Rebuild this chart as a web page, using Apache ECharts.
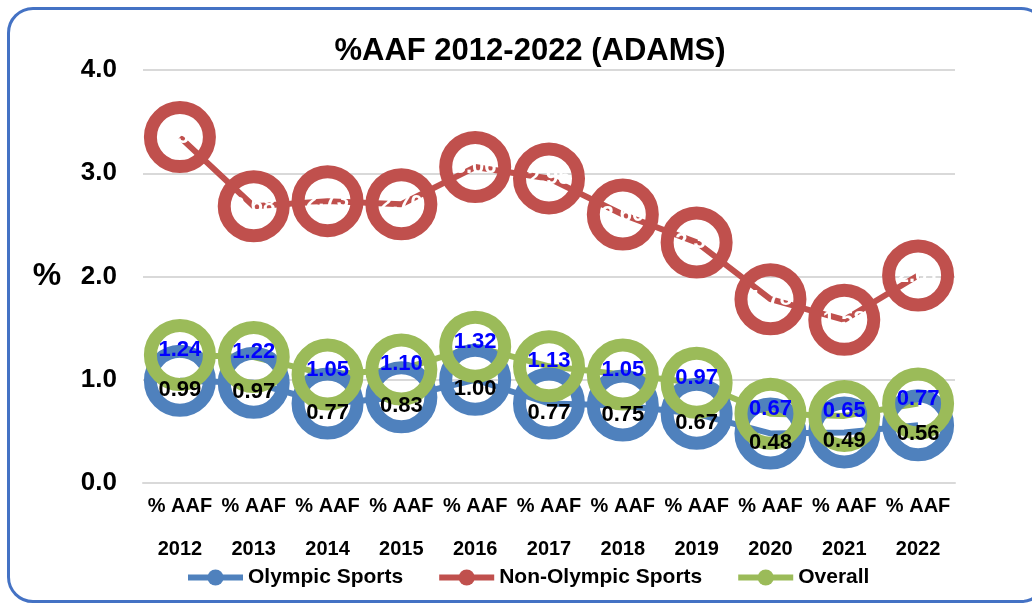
<!DOCTYPE html>
<html>
<head>
<meta charset="utf-8">
<script src="https://cdn.jsdelivr.net/npm/echarts@6/dist/echarts.min.js"></script>
<style>
  html, body { margin: 0; padding: 0; background: #fff; overflow: hidden; }
  #main { width: 1032px; height: 605px; position: relative; }
  #frame {
    position: absolute; left: 7px; top: 7px; width: 1040px; height: 596px;
    border: 3px solid #4472C4; border-radius: 26px; box-sizing: border-box;
    pointer-events: none;
  }
</style>
</head>
<body>
<div id="main"></div>
<div id="frame"></div>
<script>
// 数据
const years = ['2012', '2013', '2014', '2015', '2016', '2017', '2018', '2019', '2020', '2021', '2022'];
const olympic = [0.99, 0.97, 0.77, 0.83, 1.00, 0.77, 0.75, 0.67, 0.48, 0.49, 0.56];
const nonOlympic = [3.35, 2.68, 2.73, 2.70, 3.06, 2.95, 2.60, 2.33, 1.78, 1.58, 2.01];
const overall = [1.24, 1.22, 1.05, 1.10, 1.32, 1.13, 1.05, 0.97, 0.67, 0.65, 0.77];
const yTicks = [0, 1, 2, 3, 4];

const font = 'Liberation Sans, Arial, sans-serif';
const colors = { olympic: '#4F81BD', non: '#C0504D', overall: '#9BBB59' };

const chart = echarts.init(document.getElementById('main'));

// 空心圆圈折线
const ringSeries = (name, data, color, labelColor, offsetY) => ({
  name: name,
  type: 'line',
  data: data,
  symbol: 'circle',
  symbolSize: 59,
  lineStyle: { color: color, width: 6 },
  itemStyle: { color: 'rgba(0,0,0,0)', borderColor: color, borderWidth: 13 },
  label: {
    show: true,
    position: 'inside',
    offset: [0, offsetY],
    color: labelColor,
    fontFamily: font,
    fontWeight: 'bold',
    fontSize: 22,
    formatter: (p) => p.value.toFixed(2)
  },
  emphasis: { disabled: true },
  animation: false
});

const legendItem = (name, color) => ({
  name: name,
  itemStyle: { color: color, borderWidth: 0 },
  lineStyle: { color: color, width: 6 }
});

const option = {
  title: [
    {
      text: '%AAF 2012-2022 (ADAMS)',
      left: 525, top: 31, textAlign: 'center',
      textStyle: { fontFamily: font, fontWeight: 'bold', fontSize: 31, color: '#000' }
    },
    {
      text: '%',
      left: 42, top: 255, textAlign: 'center',
      textStyle: { fontFamily: font, fontWeight: 'bold', fontSize: 32, color: '#000' }
    }
  ],
  legend: {
    left: 180, top: 562,
    itemWidth: 55, itemHeight: 20, itemGap: 33,
    textStyle: { fontFamily: font, fontWeight: 'bold', fontSize: 21, color: '#000' },
    data: [
      legendItem('Olympic Sports', colors.olympic),
      legendItem('Non-Olympic Sports', colors.non),
      legendItem('Overall', colors.overall)
    ]
  },
  grid: { left: 143, right: 77, top: 70, bottom: 122 },
  xAxis: {
    type: 'category',
    data: years,
    boundaryGap: true,
    axisLine: { show: true, lineStyle: { color: '#D9D9D9', width: 2 } },
    axisTick: { show: false },
    axisLabel: {
      interval: 0,
      margin: 2,
      lineHeight: 43,
      color: '#000',
      fontFamily: font,
      fontWeight: 'bold',
      fontSize: 20,
      formatter: (v) => '% AAF\n' + v
    }
  },
  yAxis: {
    type: 'value',
    min: yTicks[0],
    max: yTicks[yTicks.length - 1],
    interval: 1,
    axisLine: { show: false },
    axisTick: { show: false },
    splitLine: { lineStyle: { color: '#D9D9D9', width: 2 } },
    axisLabel: {
      margin: 26,
      color: '#000',
      fontFamily: font,
      fontWeight: 'bold',
      fontSize: 26,
      formatter: (v) => v.toFixed(1)
    }
  },
  series: [
    ringSeries('Olympic Sports', olympic, colors.olympic, '#000', 9),
    ringSeries('Non-Olympic Sports', nonOlympic, colors.non, '#fff', 0),
    ringSeries('Overall', overall, colors.overall, '#0000FF', -5)
  ],
  animation: false
};

chart.setOption(option);
window.addEventListener('resize', function () {
  chart.resize();
});
</script>
</body>
</html>
